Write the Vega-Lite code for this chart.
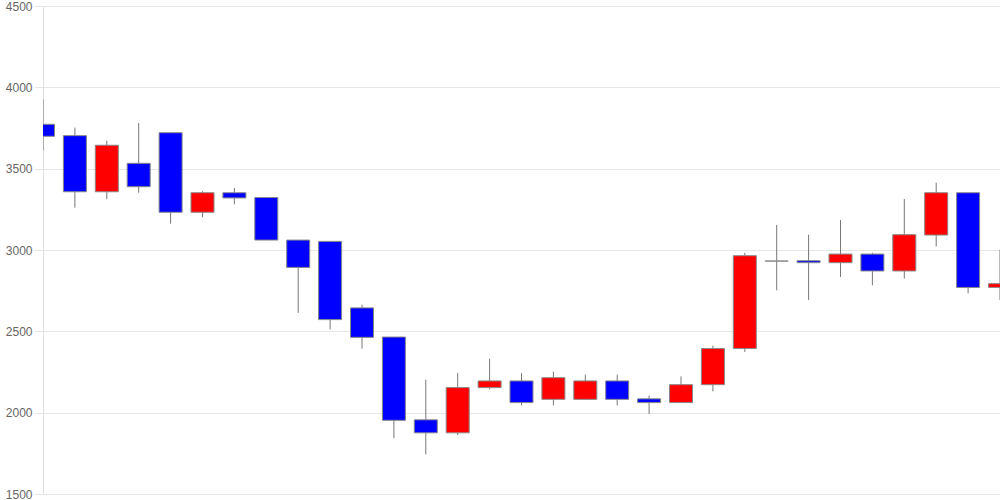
{
  "$schema": "https://vega.github.io/schema/vega-lite/v6.json",
  "width": 957,
  "height": 488,
  "autosize": {"type": "none"},
  "padding": {"left": 43, "top": 6, "right": 0, "bottom": 6},
  "background": "#ffffff",
  "config": {
    "view": {"stroke": null},
    "axis": {"labelFont": "Liberation Sans", "labelFontSize": 12, "labelColor": "#666666"}
  },
  "data": {
    "values": [
      {"i": 0, "open": 3773, "close": 3699, "high": 3926, "low": 3610},
      {"i": 1, "open": 3703, "close": 3358, "high": 3752, "low": 3260},
      {"i": 2, "open": 3358, "close": 3644, "high": 3672, "low": 3312},
      {"i": 3, "open": 3533, "close": 3389, "high": 3781, "low": 3352},
      {"i": 4, "open": 3721, "close": 3232, "high": 3721, "low": 3162},
      {"i": 5, "open": 3232, "close": 3352, "high": 3361, "low": 3201},
      {"i": 6, "open": 3352, "close": 3320, "high": 3381, "low": 3281},
      {"i": 7, "open": 3323, "close": 3061, "high": 3323, "low": 3061},
      {"i": 8, "open": 3061, "close": 2893, "high": 3061, "low": 2613},
      {"i": 9, "open": 3053, "close": 2572, "high": 3053, "low": 2512},
      {"i": 10, "open": 2644, "close": 2463, "high": 2664, "low": 2394},
      {"i": 11, "open": 2465, "close": 1953, "high": 2465, "low": 1843},
      {"i": 12, "open": 1956, "close": 1876, "high": 2203, "low": 1744},
      {"i": 13, "open": 1876, "close": 2154, "high": 2244, "low": 1863},
      {"i": 14, "open": 2154, "close": 2195, "high": 2332, "low": 2144},
      {"i": 15, "open": 2195, "close": 2062, "high": 2244, "low": 2045},
      {"i": 16, "open": 2082, "close": 2215, "high": 2252, "low": 2045},
      {"i": 17, "open": 2082, "close": 2195, "high": 2234, "low": 2082},
      {"i": 18, "open": 2195, "close": 2082, "high": 2234, "low": 2045},
      {"i": 19, "open": 2085, "close": 2062, "high": 2105, "low": 1992},
      {"i": 20, "open": 2062, "close": 2172, "high": 2223, "low": 2062},
      {"i": 21, "open": 2172, "close": 2394, "high": 2412, "low": 2131},
      {"i": 22, "open": 2394, "close": 2965, "high": 2983, "low": 2373},
      {"i": 23, "open": 2932, "close": 2932, "high": 3154, "low": 2752},
      {"i": 24, "open": 2934, "close": 2922, "high": 3094, "low": 2693},
      {"i": 25, "open": 2922, "close": 2975, "high": 3184, "low": 2834},
      {"i": 26, "open": 2975, "close": 2871, "high": 2983, "low": 2783},
      {"i": 27, "open": 2871, "close": 3094, "high": 3313, "low": 2824},
      {"i": 28, "open": 3092, "close": 3352, "high": 3414, "low": 3022},
      {"i": 29, "open": 3352, "close": 2770, "high": 3352, "low": 2733},
      {"i": 30, "open": 2770, "close": 2793, "high": 3002, "low": 2693}
    ]
  },
  "encoding": {
    "x": {
      "field": "i",
      "type": "quantitative",
      "scale": {"domain": [0, 30], "nice": false, "zero": false, "padding": 0},
      "axis": null
    }
  },
  "layer": [
    {
      "mark": {"type": "rule", "stroke": "#777777", "strokeWidth": 1, "clip": true},
      "encoding": {
        "y": {
          "field": "low",
          "type": "quantitative",
          "scale": {"domain": [1500, 4500], "nice": false, "zero": false},
          "axis": {
            "values": [1500, 2000, 2500, 3000, 3500, 4000, 4500],
            "format": "d",
            "title": null,
            "grid": true,
            "gridColor": "#e6e6e6",
            "domainColor": "#e0e0e0",
            "tickColor": "#e6e6e6",
            "tickSize": 9,
            "labelPadding": 2
          }
        },
        "y2": {"field": "high"}
      }
    },
    {
      "mark": {"type": "bar", "size": 23, "stroke": "#888888", "strokeWidth": 1, "clip": true},
      "encoding": {
        "y": {"field": "open", "type": "quantitative"},
        "y2": {"field": "close"},
        "color": {
          "condition": {"test": "datum.open > datum.close", "value": "#0000ff"},
          "value": "#ff0000"
        }
      }
    }
  ]
}
